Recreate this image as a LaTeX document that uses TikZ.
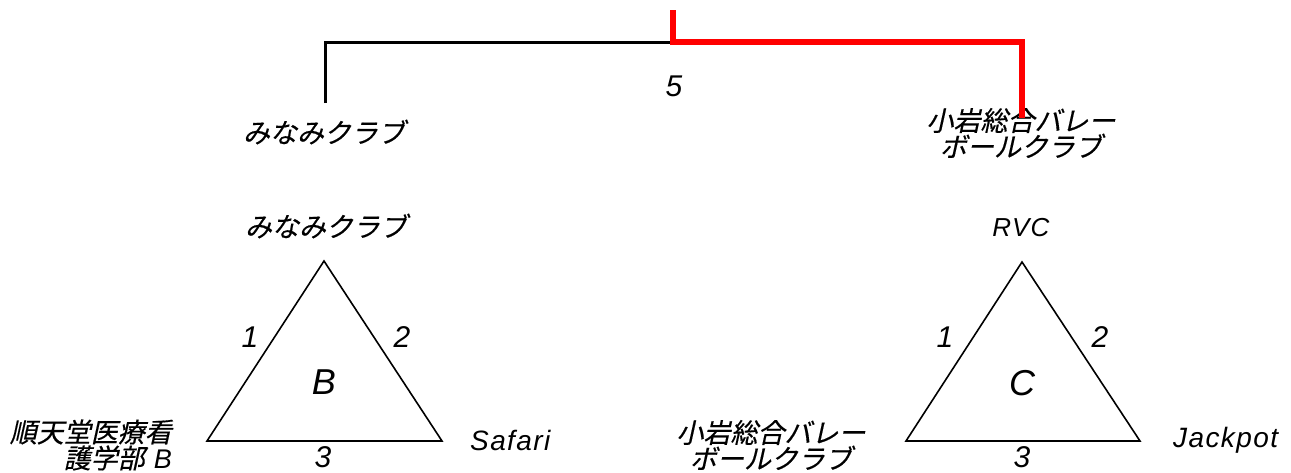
\documentclass[tikz,border=0pt]{standalone}
\usepackage{fontspec}
\setmainfont{Liberation Sans}
\newfontfamily\jpf[FakeSlant=0.22,FakeBold=0.4]{Noto Sans CJK JP}
\newfontfamily\latf[LetterSpace=5]{Liberation Sans}
\begin{document}
\begin{tikzpicture}[x=1pt,y=-1pt,
  jptext/.style={font=\jpf\fontsize{27}{26}\selectfont, align=center, inner sep=0pt},
  lattext/.style={font=\latf\itshape\fontsize{28}{30}\selectfont, inner sep=0pt},
  smalllat/.style={font=\latf\itshape\fontsize{26}{28}\selectfont, inner sep=0pt},
  num/.style={font=\latf\itshape\fontsize{30}{30}\selectfont, inner sep=0pt},
  bigl/.style={font=\latf\itshape\fontsize{36}{36}\selectfont, inner sep=0pt},
  tri/.style={draw=black, line width=1.6pt, line join=miter},
  loser/.style={draw=black, line width=3pt, line join=miter},
  winner/.style={draw=red, line width=6pt, line join=miter}]
\useasboundingbox (0,0) rectangle (1291,472);
% final bracket
\node[jptext] (left) at (324,132) {みなみクラブ};
\node[jptext] (right) at (1021,133) {小岩総合バレー\\ボールクラブ};
\node[num] (five) at (674,86) {5};
\coordinate (top) at (673,10);
\coordinate (join) at (673,42);
\coordinate (lc) at (325,42);
\coordinate (le) at (325,103);
\coordinate (rc) at (1022,42);
\coordinate (re) at (1022,118);
\draw[loser] (le) -- (lc) -- (join);
\draw[winner] (top) -- (join) -- (rc) -- (re);
% group B
\coordinate (Ba) at (324,261);
\coordinate (Bl) at (207,441);
\coordinate (Br) at (442,441);
\draw[tri] (Ba) -- (Bl) -- (Br) -- cycle;
\node[jptext] (Btop) at (326,226) {みなみクラブ};
\node[jptext, align=right, anchor=east] (Bleft) at (172,445) {順天堂医療看\\護学部\hspace{9pt}{\latf\itshape B}};
\node[lattext, anchor=west] (Bright) at (470,440) {Safari};
\node[num] (B1) at (250,337) {1};
\node[num] (B2) at (402,337) {2};
\node[num] (B3) at (323,457) {3};
\node[bigl] (Bname) at (324,382) {B};
% group C
\coordinate (Ca) at (1022,262);
\coordinate (Cl) at (906,441);
\coordinate (Cr) at (1140,441);
\draw[tri] (Ca) -- (Cl) -- (Cr) -- cycle;
\node[smalllat] (Ctop) at (1021,228) {RVC};
\node[jptext] (Cleft) at (771,445) {小岩総合バレー\\ボールクラブ};
\node[lattext, anchor=west] (Cright) at (1173,440) {Jackpot};
\node[num] (C1) at (945,337) {1};
\node[num] (C2) at (1100,337) {2};
\node[num] (C3) at (1022,457) {3};
\node[bigl] (Cname) at (1022,383) {C};
\end{tikzpicture}
\end{document}
